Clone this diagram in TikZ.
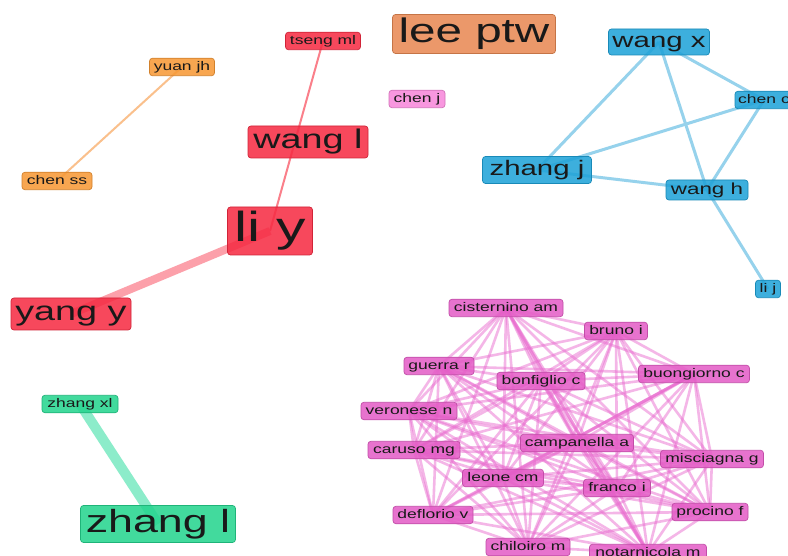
\documentclass[tikz,border=0pt]{standalone}
\usepackage{fontspec}
\setmainfont{Liberation Sans}[FakeStretch=1.4]
\usetikzlibrary{backgrounds}
\definecolor{cred}{RGB}{246,42,66}
\definecolor{cora}{RGB}{247,152,52}
\definecolor{clee}{RGB}{232,136,82}
\definecolor{cchj}{RGB}{247,135,218}
\definecolor{cblue}{RGB}{30,162,216}
\definecolor{cgreen}{RGB}{36,212,142}
\definecolor{cpink}{RGB}{228,92,198}
\definecolor{epink}{RGB}{234,110,208}
\definecolor{eblue}{RGB}{150,210,236}
\definecolor{egreen}{RGB}{140,236,202}
\definecolor{ered}{RGB}{250,105,118}
\definecolor{eredl}{RGB}{252,160,170}
\definecolor{eora}{RGB}{250,192,140}
\tikzset{
  fs/.code={\pgfmathsetmacro\fsH{0.72*#1}\pgfmathsetmacro\fsD{0.21*#1}%
    \edef\fstmp{\noexpand\tikzset{font=\noexpand\fontsize{#1}{#1}\noexpand\selectfont, text height=\fsH pt, text depth=\fsD pt}}\fstmp},
  lab/.style={rounded corners=3pt, inner sep=0pt, align=center, text=black!90, line width=0.7pt, fill opacity=0.86, text opacity=1},
  rednode/.style={lab, fill=cred, draw=cred!85!black},
  oranode/.style={lab, fill=cora, draw=cora!85!black},
  leenode/.style={lab, fill=clee, draw=clee!85!black},
  chjnode/.style={lab, fill=cchj, draw=cchj!85!black},
  bluenode/.style={lab, fill=cblue, draw=cblue!85!black},
  greennode/.style={lab, fill=cgreen, draw=cgreen!85!black},
  small/.style={minimum height=17.5pt, fs=12.5},
  pinknode/.style={lab, fill=cpink, draw=cpink!85!black, small},
  pinkedge/.style={draw=epink, line width=2.6pt, opacity=0.5},
  pinkheavy/.style={draw=epink, line width=3pt, opacity=0.5},
  blueedge/.style={draw=eblue, line width=3pt},
}
\begin{document}
\begin{tikzpicture}[x=1pt,y=-1pt]
\clip (0,0) rectangle (788,556);
% orange / red / misc
\node[oranode, small, minimum width=65pt] (yuan) at (182,67) {yuan jh};
\node[oranode, small, minimum width=70pt] (chss) at (57,181) {chen ss};
\node[rednode, small, minimum width=75pt] (tseng) at (323,41) {tseng ml};
\node[rednode, minimum width=120pt, minimum height=32pt, fs=27] (wangl) at (308,142) {wang l};
\node[rednode, minimum width=85pt, minimum height=48pt, fs=42] (liy) at (270,231) {li y};
\node[rednode, minimum width=120pt, minimum height=32pt, fs=27] (yangy) at (71,314) {yang y};
\node[leenode, minimum width=163pt, minimum height=39pt, fs=34] (lee) at (474,34) {lee ptw};
\node[chjnode, small, minimum width=56pt] (chenj) at (417,99) {chen j};
% blue
\node[bluenode, minimum width=101pt, minimum height=26pt, fs=21] (wangx) at (659,42) {wang x};
\node[bluenode, small, minimum width=58pt] (chenc) at (764,100) {chen c};
\node[bluenode, minimum width=109pt, minimum height=27pt, fs=21] (zhangj) at (537,170) {zhang j};
\node[bluenode, minimum width=82pt, minimum height=20pt, fs=16] (wangh) at (707,190) {wang h};
\node[bluenode, small, minimum width=25pt] (lij) at (768,289) {li j};
% green
\node[greennode, small, minimum width=76pt] (zxl) at (80,404) {zhang xl};
\node[greennode, minimum width=155pt, minimum height=37pt, fs=32] (zl) at (158,524) {zhang l};
% pink cluster
\node[pinknode, minimum width=114pt] (p1) at (506,308) {cisternino am};
\node[pinknode, minimum width=63pt] (p2) at (616,331) {bruno i};
\node[pinknode, minimum width=70pt] (p3) at (439,366) {guerra r};
\node[pinknode, minimum width=88pt] (p4) at (541,381) {bonfiglio c};
\node[pinknode, minimum width=111pt] (p5) at (694,374) {buongiorno c};
\node[pinknode, minimum width=96pt] (p6) at (409,411) {veronese n};
\node[pinknode, minimum width=92pt] (p7) at (414,450) {caruso mg};
\node[pinknode, minimum width=113pt] (p8) at (577,443) {campanella a};
\node[pinknode, minimum width=103pt] (p9) at (712,459) {misciagna g};
\node[pinknode, minimum width=81pt] (p10) at (503,478) {leone cm};
\node[pinknode, minimum width=67pt] (p11) at (617,488) {franco i};
\node[pinknode, minimum width=80pt] (p12) at (433,515) {deflorio v};
\node[pinknode, minimum width=76pt] (p13) at (710,512) {procino f};
\node[pinknode, minimum width=84pt] (p14) at (528,547) {chiloiro m};
\node[pinknode, minimum width=117pt] (p15) at (648,553) {notarnicola m};
\begin{scope}[on background layer]
\fill[white] (0,0) rectangle (788,556);
\draw[draw=eora, line width=2pt] (yuan.center) -- (chss.center);
\draw[draw=ered, line width=2pt, opacity=0.85] (tseng.center) -- (liy.center);
\draw[draw=eredl, line width=8pt] (liy.center) -- (yangy.center);
\draw[draw=egreen, line width=10pt] (zxl.center) -- (zl.center);
\draw[blueedge] (wangx.center) -- (zhangj.center);
\draw[blueedge] (wangx.center) -- (wangh.center);
\draw[blueedge] (wangx.center) -- (chenc.center);
\draw[blueedge] (zhangj.center) -- (chenc.center);
\draw[blueedge] (zhangj.center) -- (wangh.center);
\draw[blueedge] (chenc.center) -- (wangh.center);
\draw[blueedge] (wangh.center) -- (lij.center);
\foreach \i in {1,...,15}{
  \foreach \j in {1,...,15}{
    \ifnum\i<\j
      \draw[pinkedge] (p\i.center) -- (p\j.center);
    \fi
  }
}
\draw[pinkheavy] (p1.center) -- (p15.center);
\draw[pinkheavy] (p5.center) -- (p10.center);
\end{scope}
\end{tikzpicture}
\end{document}
